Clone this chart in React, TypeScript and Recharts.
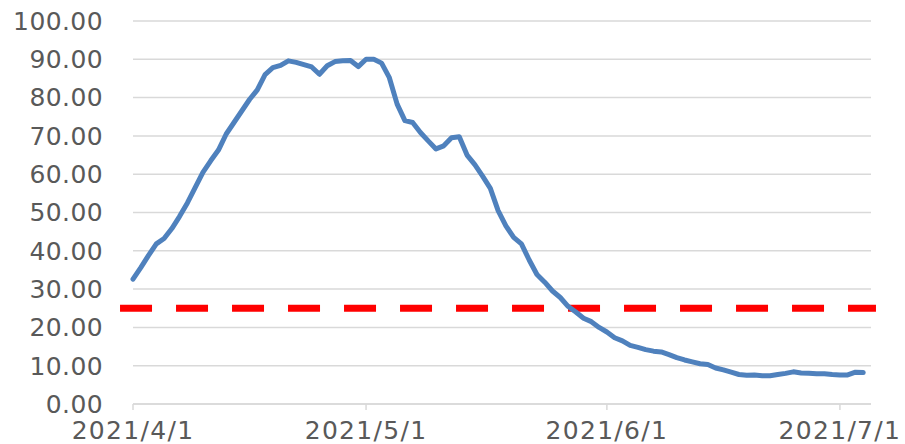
import {
  CartesianGrid,
  Line,
  LineChart,
  ReferenceLine,
  XAxis,
  YAxis,
} from "recharts"

// daily values from 2021/4/1 (day 0) to 2021/7/4 (day 94)
const values = [
  32.6, 35.6, 38.8, 41.8, 43.2, 45.8, 49.0, 52.5, 56.5, 60.5,
  63.5, 66.3, 70.5, 73.5, 76.5, 79.5, 82.0, 86.0, 87.8, 88.4,
  89.6, 89.2, 88.6, 88.0, 86.1, 88.3, 89.4, 89.6, 89.7, 88.1,
  90.0, 90.0, 89.0, 85.2, 78.3, 74.0, 73.5, 70.9, 68.7, 66.6,
  67.4, 69.5, 69.8, 65.0, 62.5, 59.5, 56.3, 50.5, 46.5, 43.5,
  41.8, 37.6, 33.8, 31.8, 29.5, 27.8, 25.5, 24.0, 22.4, 21.5,
  20.0, 18.8, 17.3, 16.5, 15.3, 14.8, 14.2, 13.8, 13.6, 12.9,
  12.1, 11.5, 11.0, 10.5, 10.3, 9.4, 8.9, 8.3, 7.7, 7.5,
  7.6, 7.4, 7.4, 7.7, 8.0, 8.4, 8.1, 8.0, 7.9, 7.9,
  7.7, 7.6, 7.6, 8.3, 8.2,
]

const tickDays = [0, 30, 61, 91]
const tickLabels = ["2021/4/1", "2021/5/1", "2021/6/1", "2021/7/1"]
const yTicks = [0, 10, 20, 30, 40, 50, 60, 70, 80, 90, 100]
const threshold = 25

const chartData = values.map((value, day) => ({ day, value }))

const Y_TEXT = { fill: "#595959", fontSize: 25, fontFamily: "DejaVu Sans", letterSpacing: 0.4 }
const X_TEXT = { fill: "#595959", fontSize: 25, fontFamily: "DejaVu Sans", letterSpacing: 1.3 }

export default function App() {
  return (
    <div style={{ position: "absolute", left: 0, top: 0, width: 905, height: 444, background: "#fff" }}>
      <LineChart
        width={905}
        height={444}
        data={chartData}
        margin={{ top: 21, right: 34, bottom: 0, left: 0 }}
      >
        <CartesianGrid vertical={false} stroke="#d9d9d9" strokeWidth={1.5} />
        <XAxis
          type="number"
          dataKey="day"
          domain={[0, 95]}
          ticks={tickDays}
          tickFormatter={(d: number) => tickLabels[tickDays.indexOf(d)] ?? ""}
          interval={0}
          height={40}
          stroke="#d9d9d9"
          strokeWidth={1.5}
          tickSize={6}
          tickMargin={11}
          tick={X_TEXT}
        />
        <YAxis
          domain={[0, 100]}
          ticks={yTicks}
          tickFormatter={(v: number) => v.toFixed(2)}
          width={133}
          axisLine={false}
          tickLine={false}
          tickSize={0}
          tickMargin={30}
          tick={Y_TEXT}
        />
        <ReferenceLine
          segment={[{ x: -1.67, y: threshold }, { x: 95.64, y: threshold }]}
          ifOverflow="visible"
          stroke="#ff0000"
          strokeWidth={7}
          strokeDasharray="32 24"
        />
        <Line
          type="linear"
          dataKey="value"
          stroke="#4f81bd"
          strokeWidth={5}
          strokeLinejoin="round"
          strokeLinecap="round"
          dot={false}
          isAnimationActive={false}
        />
      </LineChart>
    </div>
  )
}
